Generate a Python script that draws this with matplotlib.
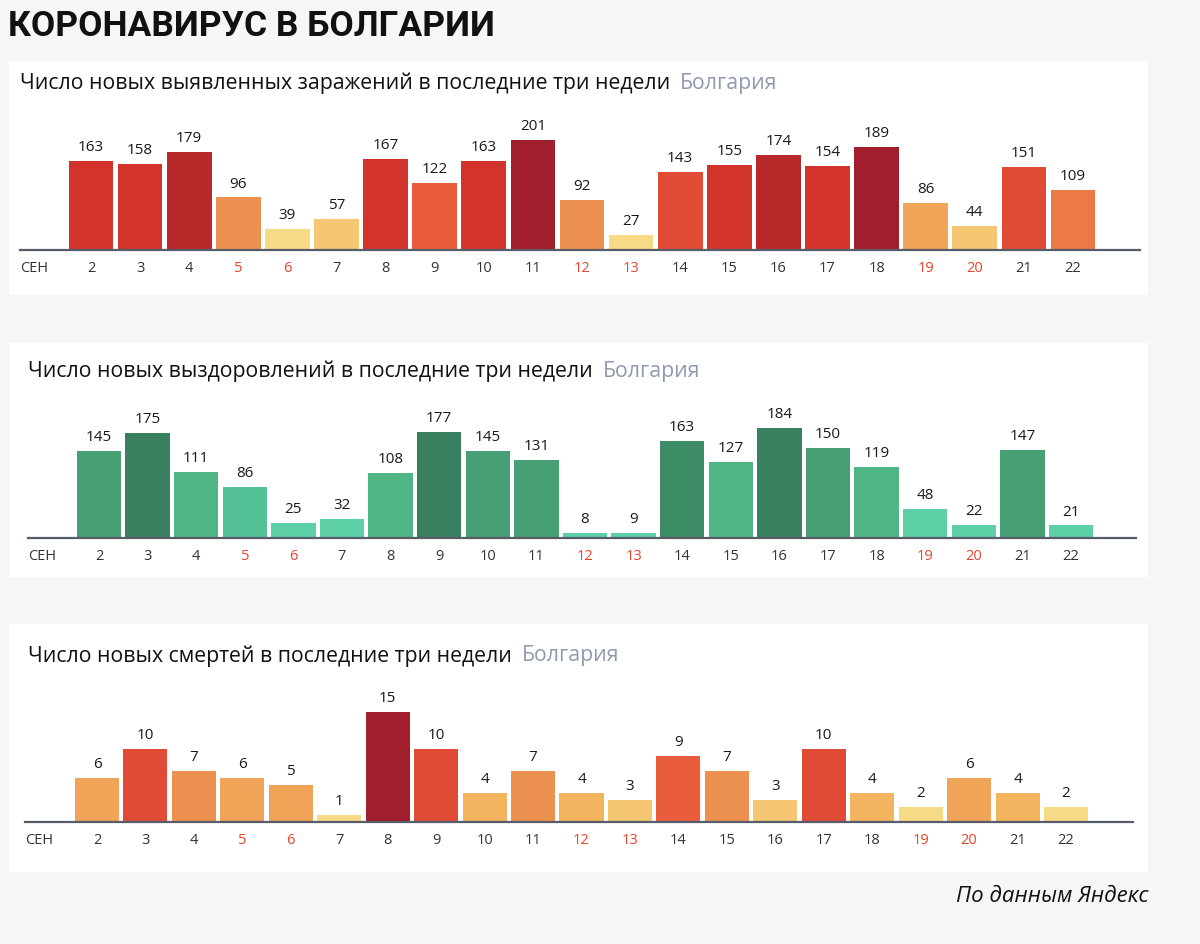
import matplotlib
matplotlib.use("Agg")
import matplotlib.pyplot as plt
from matplotlib.patches import Rectangle
from matplotlib.text import Annotation

plt.rcParams['font.family'] = ['Open Sans', 'DejaVu Sans']

# ---------------- data ----------------
days = list(range(2, 23))
day_labels = [str(d) for d in days]
weekend_days = [5, 6, 12, 13, 19, 20]
month_label = "СЕН"

infections = [163, 158, 179, 96, 39, 57, 167, 122, 163, 201, 92, 27,
              143, 155, 174, 154, 189, 86, 44, 151, 109]
recoveries = [145, 175, 111, 86, 25, 32, 108, 177, 145, 131, 8, 9,
              163, 127, 184, 150, 119, 48, 22, 147, 21]
deaths = [6, 10, 7, 6, 5, 1, 15, 10, 4, 7, 4, 3,
          9, 7, 3, 10, 4, 2, 6, 4, 2]

main_title = "КОРОНАВИРУС В БОЛГАРИИ"
titles = ["Число новых выявленных заражений в последние три недели",
          "Число новых выздоровлений в последние три недели",
          "Число новых смертей в последние три недели"]
region = "Болгария"
source = "По данным Яндекс"

# ---------------- colours ----------------
R1, R2, R3, R4 = '#a11f2c', '#b9292b', '#d2342b', '#e04b35'
O1, O2, O3, O4 = '#e85c3b', '#ec7a47', '#ed9150', '#f0a457'
Y1, Y2, Y3 = '#f2b45f', '#f5c772', '#f7da86'
inf_colors = [R3, R3, R2, O3, Y3, Y2, R3, O1, R3, R1, O3, Y3,
              R4, R3, R2, R3, R1, O4, Y2, R4, O2]
G1, G2, G3, G4, G5, G6 = '#38805f', '#3c8c65', '#46a074', '#50b585', '#55c196', '#5ccfa5'
rec_colors = [G3, G1, G4, G5, G6, G6, G4, G1, G3, G3, G6, G6,
              G2, G4, G1, G3, G4, G6, G6, G3, G6]
dth_colors = [O4, R4, O3, O4, O4, Y3, R1, R4, Y1, O3, Y1, Y2,
              O1, O3, Y2, R4, Y1, Y3, O4, Y1, Y3]

BG = '#f6f6f6'
W, H = 1200, 945

fig = plt.figure(figsize=(W / 100, H / 100), dpi=100, facecolor=BG)


def fx(x):
    return x / W


def fy(y):
    return 1 - y / H


# main title
fig.text(fx(8), fy(27), main_title, fontsize=25.5, fontweight='bold',
         family=['Roboto', 'DejaVu Sans'], color='#111111', ha='left', va='center')

# panels: rect, title pos, axis left/right, baseline, centre of first / last day
panels = [
    dict(rect=(9, 62, 1148, 296), tpos=(20, 83), axl=20, axr=1140, base=251, c2=91, c22=1073,
         vals=infections, cols=inf_colors, title=titles[0]),
    dict(rect=(10, 344, 1148, 578), tpos=(28, 371), axl=28, axr=1136, base=539, c2=99, c22=1071,
         vals=recoveries, cols=rec_colors, title=titles[1]),
    dict(rect=(9, 625, 1148, 873), tpos=(28, 656), axl=25, axr=1133, base=823, c2=97, c22=1066,
         vals=deaths, cols=dth_colors, title=titles[2]),
]

for p in panels:
    x0, y0, x1, y1 = p['rect']
    fig.patches.append(Rectangle((fx(x0), fy(y1)), (x1 - x0) / W, (y1 - y0) / H,
                                 transform=fig.transFigure, facecolor='white',
                                 edgecolor='none', zorder=-1))
    t = fig.text(fx(p['tpos'][0]), fy(p['tpos'][1]), p['title'], fontsize=15.3,
                 color='#111111', ha='left', va='center')
    ann = Annotation(region, xy=(1, 0.5), xycoords=t, xytext=(7, 0),
                     textcoords='offset points', fontsize=15.3, color='#8e9aae',
                     ha='left', va='center', annotation_clip=False)
    fig.add_artist(ann)

    hpx = 110
    ax = fig.add_axes([fx(p['axl']), fy(p['base']), (p['axr'] - p['axl']) / W, hpx / H])
    ax.set_facecolor('none')
    sp = (p['c22'] - p['c2']) / 20.0
    ax.set_xlim(2 - (p['c2'] - p['axl']) / sp, 22 + (p['axr'] - p['c22']) / sp)
    vmax = max(p['vals'])
    ax.set_ylim(0, vmax)
    ax.bar(days, p['vals'], width=0.91, color=p['cols'], edgecolor='none', zorder=2)
    for d, v in zip(days, p['vals']):
        ax.annotate(str(v), xy=(d, v), xytext=(0, 5), textcoords='offset points',
                    ha='center', va='bottom', fontsize=11, color='#1a1a1a',
                    annotation_clip=False)
    for s in ['top', 'left', 'right']:
        ax.spines[s].set_visible(False)
    ax.spines['bottom'].set_color('#585c68')
    ax.spines['bottom'].set_linewidth(1.6)
    ax.spines['bottom'].set_zorder(3)
    ax.set_yticks([])
    ax.set_xticks(days)
    ax.set_xticklabels(day_labels, fontsize=10.5)
    ax.tick_params(axis='x', length=0, pad=7)
    for lab, d in zip(ax.get_xticklabels(), days):
        lab.set_color('#e8432d' if d in weekend_days else '#333333')
    ax.annotate(month_label, xy=(0, 0), xycoords='axes fraction', xytext=(0, -7),
                textcoords='offset points', ha='left', va='top', fontsize=10.5,
                color='#333333')

fig.text(fx(1148), fy(897), source, fontsize=16, style='italic', color='#111111',
         ha='right', va='center')

fig.savefig('out.png', dpi=100, facecolor=BG)
